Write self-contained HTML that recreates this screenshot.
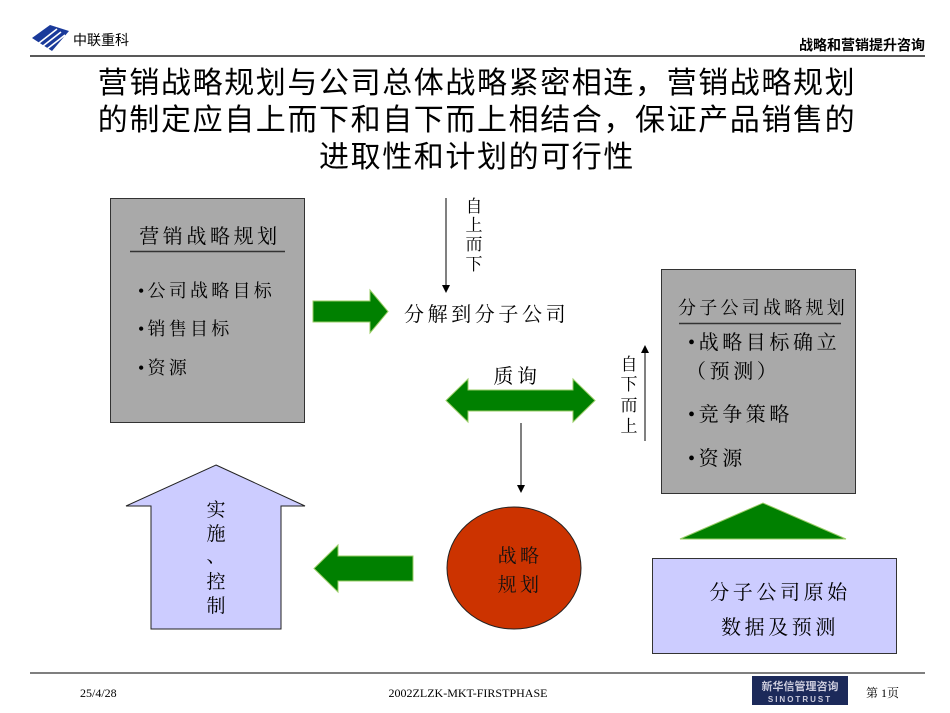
<!DOCTYPE html>
<html><head><meta charset="utf-8"><style>
html,body{margin:0;padding:0;background:#fff;}
svg{display:block;}
.s{font-family:"Liberation Serif","Noto Serif CJK SC",serif;letter-spacing:0.18em;}
.v{font-family:"Liberation Serif","Noto Serif CJK SC",serif;}
.h{font-family:"Liberation Sans","Noto Sans CJK SC",sans-serif;}
</style></head><body>
<svg width="950" height="713" viewBox="0 0 950 713" xmlns="http://www.w3.org/2000/svg">
<!-- header logo -->
<g>
<path d="M32 38 L50 25 L69 31 L52 51 Z" fill="#1a3a9a"/>
<path d="M39 43 L57 29 M43 46 L61 32 M47 49 L65 35" stroke="#fff" stroke-width="1.6"/>
</g>
<text x="73" y="45" class="h" font-size="14" fill="#000">中联重科</text>
<text x="925" y="50" class="h" font-size="14" font-weight="bold" text-anchor="end" fill="#000">战略和营销提升咨询</text>
<line x1="30" y1="56" x2="925" y2="56" stroke="#222" stroke-width="1.5"/>
<!-- title -->
<g class="h" font-size="30" text-anchor="middle" fill="#000" letter-spacing="1.6">
<text x="477" y="93">营销战略规划与公司总体战略紧密相连，营销战略规划</text>
<text x="477" y="130">的制定应自上而下和自下而上相结合，保证产品销售的</text>
<text x="477" y="167">进取性和计划的可行性</text>
</g>
<!-- left box -->
<rect x="110.5" y="198.5" width="194" height="224" fill="#a9a9a9" stroke="#333" stroke-width="1"/>
<text x="210" y="243" class="s" font-size="20" text-anchor="middle">营销战略规划</text>
<line x1="130" y1="251.5" x2="285" y2="251.5" stroke="#333" stroke-width="1.5"/>
<g class="s" font-size="18">
<text x="138" y="297">•公司战略目标</text>
<text x="138" y="335">•销售目标</text>
<text x="138" y="374">•资源</text>
</g>
<!-- green right arrow -->
<polygon points="313,301 370,301 370,290 388,311.5 370,333 370,322 313,322" fill="#008000" stroke="#9c6" stroke-width="1"/>
<!-- top down arrow -->
<line x1="446" y1="198" x2="446" y2="286" stroke="#000" stroke-width="1"/>
<polygon points="442,285 450,285 446,293" fill="#000"/>
<g class="v" font-size="17" text-anchor="middle">
<text x="474" y="212">自</text><text x="474" y="231">上</text><text x="474" y="250">而</text><text x="474" y="270">下</text>
</g>
<text x="404" y="321" class="s" font-size="20">分解到分子公司</text>
<text x="517" y="383" class="s" font-size="20" text-anchor="middle">质询</text>
<!-- double arrow -->
<polygon points="446,400.5 468,379 468,390 573,390 573,379 595,400.5 573,422 573,411 468,411 468,422" fill="#008000" stroke="#9c6" stroke-width="1"/>
<!-- down line -->
<line x1="521" y1="423" x2="521" y2="486" stroke="#000" stroke-width="1"/>
<polygon points="517,485 525,485 521,493" fill="#000"/>
<!-- red circle -->
<ellipse cx="514" cy="568" rx="67" ry="61" fill="#cc3300" stroke="#222" stroke-width="1"/>
<g class="s" font-size="19" text-anchor="middle" fill="#111">
<text x="520" y="562">战略</text><text x="520" y="591">规划</text>
</g>
<!-- left arrow -->
<polygon points="413,556 338,556 338,545 314,568.5 338,592 338,581 413,581" fill="#008000" stroke="#9c6" stroke-width="1"/>
<!-- blue up arrow -->
<polygon points="216,465 305,506 281,506 281,629 151,629 151,506 126,506" fill="#ccccff" stroke="#222" stroke-width="1"/>
<g class="v" font-size="19" text-anchor="middle">
<text x="216" y="516">实</text><text x="216" y="540">施</text><text x="216" y="562">、</text><text x="216" y="588">控</text><text x="216" y="612">制</text>
</g>
<!-- right side -->
<g class="v" font-size="17" text-anchor="middle">
<text x="629" y="370">自</text><text x="629" y="390">下</text><text x="629" y="411">而</text><text x="629" y="432">上</text>
</g>
<line x1="645" y1="441" x2="645" y2="352" stroke="#000" stroke-width="1"/>
<polygon points="641,353 649,353 645,345" fill="#000"/>
<rect x="661.5" y="269.5" width="194" height="224" fill="#a9a9a9" stroke="#333" stroke-width="1"/>
<text x="763" y="314" class="s" font-size="18" text-anchor="middle" letter-spacing="2">分子公司战略规划</text>
<line x1="679" y1="323.5" x2="841" y2="323.5" stroke="#333" stroke-width="1.5"/>
<g class="s" font-size="20">
<text x="688" y="349">•战略目标确立</text>
<text x="686" y="378">（预测）</text>
<text x="688" y="421">•竞争策略</text>
<text x="688" y="465">•资源</text>
</g>
<polygon points="680,539 846,539 763,503" fill="#008000" stroke="#9c6" stroke-width="1"/>
<rect x="652.5" y="558.5" width="244" height="95" fill="#ccccff" stroke="#333" stroke-width="1"/>
<g class="s" font-size="20" text-anchor="middle">
<text x="780" y="599">分子公司原始</text>
<text x="780" y="634">数据及预测</text>
</g>
<!-- footer -->
<line x1="30" y1="673" x2="925" y2="673" stroke="#555" stroke-width="1.5"/>
<g class="v" font-size="12" fill="#000">
<text x="80" y="697">25/4/28</text>
<text x="468" y="697" text-anchor="middle">2002ZLZK-MKT-FIRSTPHASE</text>
<text x="866" y="697">第 1页</text>
</g>
<rect x="752" y="676" width="96" height="29" fill="#1c2a5a"/>
<text x="800" y="690" class="h" font-size="11" fill="#ccd" text-anchor="middle" font-weight="bold">新华信管理咨询</text>
<text x="800" y="702" class="h" font-size="8" fill="#ccd" text-anchor="middle" font-weight="bold" letter-spacing="2">SINOTRUST</text>
</svg>
</body></html>
